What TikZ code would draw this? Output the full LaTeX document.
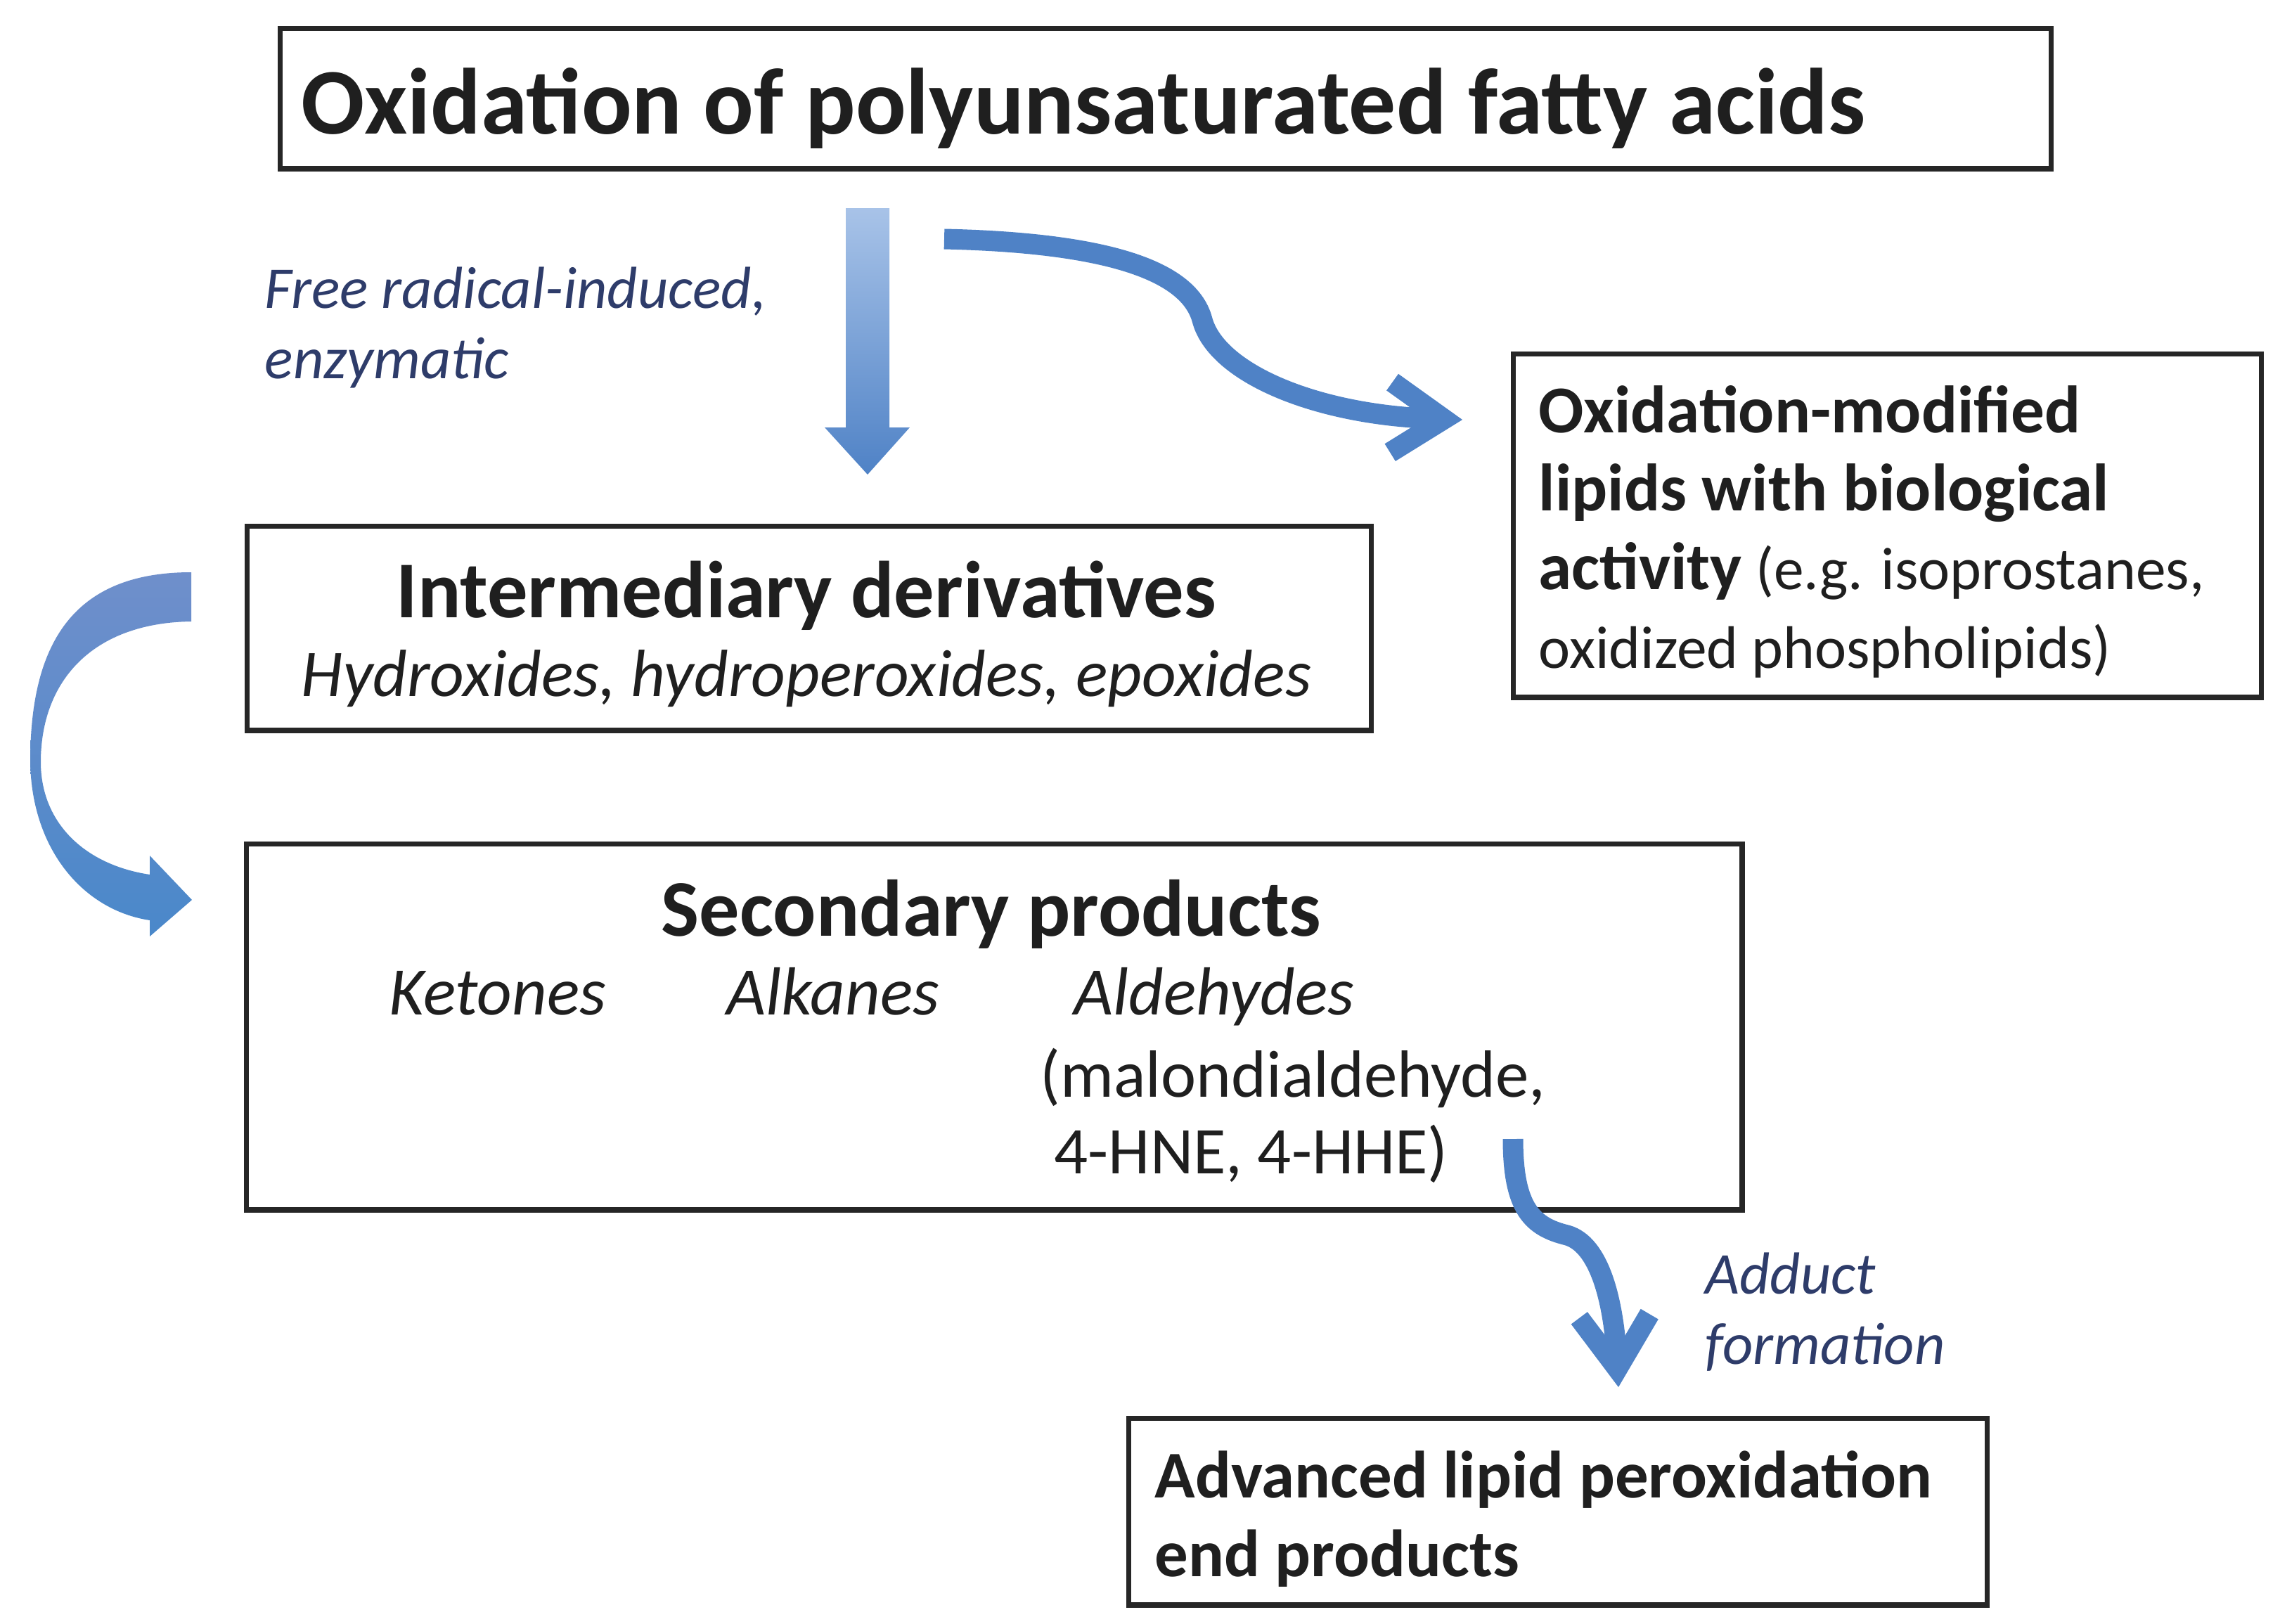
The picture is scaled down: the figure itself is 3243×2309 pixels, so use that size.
\documentclass[tikz,border=0pt]{standalone}
\usepackage{fontspec}
\setmainfont{Carlito}
\usetikzlibrary{arrows.meta}
\definecolor{arrowblue}{HTML}{4F82C6}
\definecolor{paleblue}{HTML}{A8C3E8}
\definecolor{bendtop}{HTML}{6F8FCB}
\definecolor{bendbot}{HTML}{4A88CA}
\definecolor{labelblue}{HTML}{2E3C6A}

\begin{document}
\begin{tikzpicture}[x=0.01cm,y=-0.01cm,
  box/.style={draw=black!85,line width=2.1pt,anchor=north west,inner sep=0pt},
  txt/.style={anchor=base west,inner sep=0pt,text=black!88,align=left},
  lbl/.style={anchor=base west,inner sep=0pt,text=labelblue,align=left,
    font=\fontsize{24}{28.3}\selectfont\itshape},
  flow/.style={draw=arrowblue,line width=0.29cm,
    -{Straight Barb[length=0.75cm,width=1.0cm]}}]
\useasboundingbox (0,0) rectangle (3243,2309);

% boxes
\node[box,minimum width=25.17cm,minimum height=1.99cm] (pufa) at (395,37) {};
\node[box,minimum width=10.63cm,minimum height=4.88cm] (oxmod) at (2149,500) {};
\node[box,minimum width=15.98cm,minimum height=2.90cm] (inter) at (348,745) {};
\node[box,minimum width=21.26cm,minimum height=5.20cm] (second) at (347,1197) {};
\node[box,minimum width=12.20cm,minimum height=2.65cm] (endprod) at (1602,2014) {};

% texts (base of a multi-line node is its last line)
\node[txt,font=\fontsize{38}{45}\selectfont\bfseries] (pufatxt) at (428,190)
  {Oxidation of polyunsaturated fatty acids};
\node[txt,font=\fontsize{24.3}{31.75}\selectfont] (oxmodtxt) at (2188,950)
  {{\fontsize{27.1}{31.75}\selectfont\bfseries Oxidation-modified}\\
   {\fontsize{27.1}{31.75}\selectfont\bfseries lipids with biological}\\
   {\fontsize{27.1}{31.75}\selectfont\bfseries activity} (e.g. isoprostanes,\\
   oxidized phospholipids)};
\node[txt,anchor=base,font=\fontsize{32.6}{38}\selectfont\bfseries] (intertxt) at (1147,878)
  {Intermediary derivatives};
\node[txt,anchor=base,font=\fontsize{27}{32}\selectfont\itshape] (intersub) at (1147,990)
  {Hydroxides, hydroperoxides, epoxides};
\node[txt,anchor=base,font=\fontsize{32.5}{38}\selectfont\bfseries] (secondtxt) at (1410,1331)
  {Secondary products};
\node[txt,font=\fontsize{27.5}{31}\selectfont\itshape] (ketones) at (553,1443) {Ketones};
\node[txt,font=\fontsize{27.5}{31}\selectfont\itshape] (alkanes) at (1033,1443) {Alkanes};
\node[txt,font=\fontsize{27.5}{31}\selectfont\itshape] (aldehydes) at (1527,1443) {Aldehydes};
\node[txt,font=\fontsize{27}{31}\selectfont] (aldlist) at (1479,1669)
  {(malondialdehyde,\\ \hspace*{0.2cm}4-HNE, 4-HHE)};
\node[txt,font=\fontsize{27}{31.75}\selectfont\bfseries] (endtxt) at (1642,2242)
  {Advanced lipid peroxidation\\ end products};

% labels
\node[lbl] (radical) at (376,538) {Free radical-induced,\\ enzymatic};
\node[lbl] (adduct) at (2425,1940) {Adduct\\ formation};

% arrows
\shade[top color=paleblue,bottom color=arrowblue] (1203,296) -- (1265,296) -- (1265,608)
  -- (1294,608) -- (1234,675) -- (1173,608) -- (1203,608) -- cycle;
\coordinate (oxstart) at (1343,340);
\coordinate (oxend) at (2080,597);
\draw[flow] (oxstart) .. controls (1560,345) and (1690,380) .. (1710,455)
  .. controls (1730,530) and (1870,590) .. (oxend);
\shade[top color=bendtop,bottom color=bendbot] (272,814) .. controls (100,814) and (43,920) .. (43,1084)
  .. controls (45,1210) and (120,1295) .. (213,1309) -- (213,1332) -- (273,1280) -- (213,1217)
  -- (213,1244) .. controls (120,1230) and (58,1170) .. (58,1084)
  .. controls (58,970) and (130,886) .. (272,884) -- cycle;
\coordinate (adstart) at (2152,1620);
\coordinate (adend) at (2302,1973);
\draw[flow] (adstart) .. controls (2152,1720) and (2180,1745) .. (2229,1757)
  .. controls (2275,1770) and (2295,1850) .. (adend);
\end{tikzpicture}
\end{document}
